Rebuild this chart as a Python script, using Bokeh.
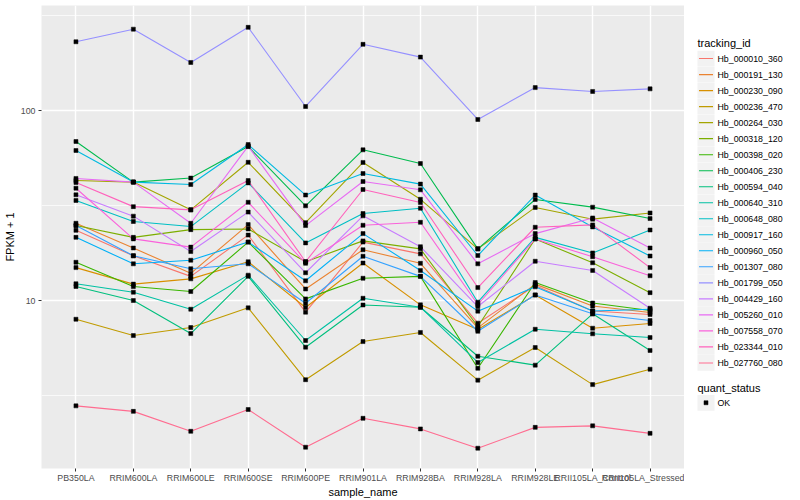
from bokeh.plotting import figure
from bokeh.models import ColumnDataSource, Range1d, FixedTicker, BasicTickFormatter
from bokeh.layouts import row
from bokeh.embed import file_html
from bokeh.resources import INLINE
from bokeh.core.properties import value

# ---------------- data ----------------
categories = ["PB350LA", "RRIM600LA", "RRIM600LE", "RRIM600SE", "RRIM600PE",
              "RRIM901LA", "RRIM928BA", "RRIM928LA", "RRIM928LE",
              "RRII105LA_Control", "RRII105LA_Stressed"]

tracking_ids = ["Hb_000010_360", "Hb_000191_130", "Hb_000230_090", "Hb_000236_470",
                "Hb_000264_030", "Hb_000318_120", "Hb_000398_020", "Hb_000406_230",
                "Hb_000594_040", "Hb_000640_310", "Hb_000648_080", "Hb_000917_160",
                "Hb_000960_050", "Hb_001307_080", "Hb_001799_050", "Hb_004429_160",
                "Hb_005260_010", "Hb_007558_070", "Hb_023344_010", "Hb_027760_080"]

# FPKM + 1 per sample (same order as categories)
hb_000010_360 = [23.4, 17.2, 13.4, 22.1, 8.68, 20.3, 17.6, 7.60, 12.0, 8.81, 8.44]
hb_000191_130 = [25.5, 18.9, 13.9, 25.1, 11.5, 18.5, 15.7, 7.18, 12.2, 9.36, 8.65]
hb_000230_090 = [14.9, 12.2, 13.0, 16.0, 9.19, 15.75, 9.49, 7.04, 10.7, 7.15, 7.57]
hb_000236_470 = [7.97, 6.54, 7.21, 9.15, 3.83, 6.08, 6.79, 3.81, 5.66, 3.61, 4.35]
hb_000264_030 = [42.8, 42.0, 30.0, 53.4, 25.7, 53.3, 34.1, 18.7, 30.9, 26.8, 28.9]
hb_000318_120 = [24.8, 21.5, 23.6, 23.8, 16.0, 20.6, 18.7, 7.30, 21.1, 15.8, 11.0]
hb_000398_020 = [15.9, 11.85, 11.15, 20.3, 10.2, 13.1, 13.4, 4.40, 12.44, 9.70, 8.86]
hb_000406_230 = [68.7, 42.0, 44.1, 64.6, 31.5, 62.1, 52.6, 18.7, 34.0, 31.0, 27.0]
hb_000594_040 = [11.85, 10.0, 6.70, 13.4, 5.68, 9.47, 9.22, 5.09, 4.57, 8.51, 5.46]
hb_000640_310 = [12.25, 11.06, 9.0, 13.6, 6.16, 10.28, 9.22, 4.72, 7.06, 6.68, 6.39]
hb_000648_080 = [33.6, 26.05, 24.5, 41.6, 20.1, 28.7, 30.6, 9.80, 21.5, 17.8, 23.5]
hb_000917_160 = [61.6, 42.0, 40.8, 66.2, 35.9, 46.6, 41.0, 17.25, 35.9, 24.4, 17.15]
hb_000960_050 = [21.5, 15.6, 16.3, 20.3, 12.7, 22.5, 14.4, 8.79, 11.8, 8.81, 9.0]
hb_001307_080 = [24.8, 17.2, 14.7, 15.6, 9.68, 17.1, 13.4, 6.89, 10.7, 8.51, 7.85]
hb_001799_050 = [230, 268, 179, 274, 105, 223, 191, 89.7, 132, 126, 130]
hb_004429_160 = [36.0, 27.8, 18.1, 29.2, 14.0, 27.9, 19.2, 9.30, 16.1, 14.4, 9.11]
hb_005260_010 = [43.9, 42.0, 25.5, 64.9, 24.8, 42.3, 38.25, 15.6, 22.5, 27.2, 18.9]
hb_007558_070 = [39.0, 21.1, 19.1, 32.9, 15.7, 24.9, 25.8, 9.53, 21.1, 17.0, 13.5]
hb_023344_010 = [41.8, 31.2, 30.0, 42.8, 16.0, 38.4, 32.8, 11.7, 24.3, 25.0, 14.9]
hb_027760_080 = [2.79, 2.61, 2.05, 2.67, 1.69, 2.40, 2.11, 1.67, 2.15, 2.19, 2.0]

series_values = [hb_000010_360, hb_000191_130, hb_000230_090, hb_000236_470,
                 hb_000264_030, hb_000318_120, hb_000398_020, hb_000406_230,
                 hb_000594_040, hb_000640_310, hb_000648_080, hb_000917_160,
                 hb_000960_050, hb_001307_080, hb_001799_050, hb_004429_160,
                 hb_005260_010, hb_007558_070, hb_023344_010, hb_027760_080]

quant_status = ["OK"]

y_major_ticks = [10, 100]
y_minor_ticks = [3.1623, 31.623, 316.23]

# ---------------- styles ----------------
colors = ["#F8766D", "#EA8331", "#D89000", "#C09B00", "#A3A500", "#7CAE00",
          "#39B600", "#00BB4E", "#00BF7D", "#00C1A3", "#00BFC4", "#00BAE0",
          "#00B0F6", "#35A2FF", "#9590FF", "#C77CFF", "#E76BF3", "#FA62DB",
          "#FF62BC", "#FF6C90"]
FONT = "Liberation Sans"

x_index = list(range(len(categories)))

p = figure(width=684, height=500, output_backend="svg", toolbar_location=None,
           x_range=Range1d(-0.6, 10.6), y_range=Range1d(1.306, 357),
           y_axis_type="log",
           min_border_left=40, min_border_right=0, min_border_top=5, min_border_bottom=32)
p.background_fill_color = "#EBEBEB"
p.border_fill_color = "white"
p.outline_line_color = None

xticker = FixedTicker(ticks=x_index)
yticker = FixedTicker(ticks=y_major_ticks, minor_ticks=y_minor_ticks)
p.xaxis.ticker = xticker
p.yaxis.ticker = yticker
p.yaxis.formatter = BasicTickFormatter()
p.xaxis.major_label_overrides = {i: c for i, c in zip(x_index, categories)}
p.yaxis.major_label_overrides = {t: str(t) for t in y_major_ticks}

for ax in (p.xaxis, p.yaxis):
    ax.axis_line_color = None
    ax.major_tick_line_color = "#333333"
    ax.major_tick_line_width = 1
    ax.major_tick_out = 3
    ax.major_tick_in = 0
    ax.minor_tick_line_color = None
    ax.major_label_text_font = FONT
    ax.major_label_text_font_size = "8.8px"
    ax.major_label_text_color = "#4D4D4D"
    ax.major_label_standoff = 2
    ax.axis_label_text_font = FONT
    ax.axis_label_text_font_size = "11px"
    ax.axis_label_text_font_style = "normal"
    ax.axis_label_text_color = "black"
    ax.axis_label_standoff = 2

p.xaxis.major_label_standoff = 1
p.xaxis.axis_label_standoff = 0
p.xaxis.axis_label = "sample_name"
p.yaxis.axis_label = "FPKM + 1"

p.xgrid.ticker = xticker
p.ygrid.ticker = yticker
p.xgrid.grid_line_color = "white"
p.xgrid.grid_line_width = 1.4
p.ygrid.grid_line_color = "white"
p.ygrid.grid_line_width = 1.4
p.ygrid.minor_grid_line_color = "white"
p.ygrid.minor_grid_line_width = 0.7

sources = []
for tid, vals, col in zip(tracking_ids, series_values, colors):
    src = ColumnDataSource(dict(x=x_index, y=vals, status=quant_status * len(vals)))
    sources.append(src)
    p.line(x="x", y="y", source=src, line_color=col, line_width=1.1)
for src in sources:
    p.scatter(x="x", y="y", source=src, marker="square", size=4,
              fill_color="black", line_color="black", line_width=0.5)

# ---------------- legend panel ----------------
p2 = figure(width=116, height=500, output_backend="svg", toolbar_location=None,
            x_range=Range1d(0, 116), y_range=Range1d(500, 0),
            x_axis_location=None, y_axis_location=None,
            min_border=0, outline_line_color=None)
p2.xgrid.visible = False
p2.ygrid.visible = False
p2.background_fill_color = "white"
p2.border_fill_color = "white"

n = len(tracking_ids)
key_y = [57.3 + 17.3 * i for i in range(n)]
p2.text(x=[13], y=[40.5], text=["tracking_id"], text_font=value(FONT),
        text_font_size="11px", text_baseline="middle", text_color="black")
p2.rect(x=[21.5] * n, y=key_y, width=17, height=17, fill_color="#F2F2F2", line_color=None)
p2.segment(x0=[14.5] * n, x1=[28.5] * n, y0=key_y, y1=key_y, line_color=colors, line_width=1.1)
p2.text(x=[33] * n, y=key_y, text=tracking_ids, text_font=value(FONT),
        text_font_size="8.8px", text_baseline="middle", text_color="black")

qs_title_y = 412.7
qs_y = [429 + 17.3 * i for i in range(len(quant_status))]
p2.text(x=[13], y=[qs_title_y], text=["quant_status"], text_font=value(FONT),
        text_font_size="11px", text_baseline="middle", text_color="black")
p2.rect(x=[21.5] * len(qs_y), y=qs_y, width=17, height=17, fill_color="#F2F2F2", line_color=None)
p2.scatter(x=[21.5] * len(qs_y), y=qs_y, marker="square", size=4,
           fill_color="black", line_color="black", line_width=0.5)
p2.text(x=[33] * len(qs_y), y=qs_y, text=quant_status, text_font=value(FONT),
        text_font_size="8.8px", text_baseline="middle", text_color="black")

layout = row(p, p2)
open("out.html", "w").write(file_html(layout, INLINE))
